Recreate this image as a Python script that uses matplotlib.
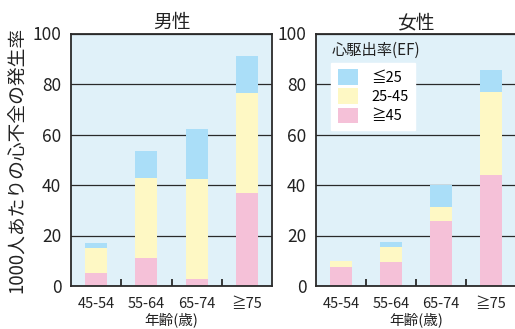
import matplotlib
matplotlib.use('Agg')
import matplotlib.pyplot as plt
import numpy as np

plt.rcParams['font.family'] = ['Noto Sans CJK JP', 'DejaVu Sans']

# 年齢層
ages = ['45-54', '55-64', '65-74', '≧75']

# 男性 (各区分の値)
male_ge45 = [5.3, 11.2, 2.9, 36.9]
male_25_45 = [9.9, 31.7, 39.4, 39.5]
male_le25 = [1.8, 10.5, 19.8, 14.6]

# 女性
female_ge45 = [7.7, 9.5, 25.9, 44.1]
female_25_45 = [2.2, 5.9, 5.4, 32.7]
female_le25 = [0.0, 2.0, 8.7, 8.7]

yticks = [0, 20, 40, 60, 80, 100]

c_bg = '#e0f1f9'
c_blue = '#aadef8'
c_yellow = '#fef8c4'
c_pink = '#f5c1d8'
c_line = '#2a2a2a'

fig = plt.figure(figsize=(5.15, 3.29), dpi=100)
ax1 = fig.add_axes([71 / 515, 43 / 329, 201 / 515, 252.5 / 329])
ax2 = fig.add_axes([316 / 515, 43 / 329, 200 / 515, 252.5 / 329])


def draw(ax, ge45, mid, le25, title):
    x = np.arange(len(ages))
    ge45 = np.array(ge45)
    mid = np.array(mid)
    le25 = np.array(le25)
    w = 0.44
    b1 = ax.bar(x, ge45, w, color=c_pink, label='≧45')
    b2 = ax.bar(x, mid, w, bottom=ge45, color=c_yellow, label='25-45')
    b3 = ax.bar(x, le25, w, bottom=ge45 + mid, color=c_blue, label='≦25')
    ax.set_facecolor(c_bg)
    ax.set_xlim(-0.5, 3.5)
    ax.set_ylim(0, 100)
    ax.set_axisbelow(True)
    ax.yaxis.grid(True, color=c_line, lw=0.9)
    ax.set_yticks(yticks)
    ax.set_yticklabels([str(v) for v in yticks], fontsize=12.5, color='#222')
    ax.tick_params(axis='y', length=0, pad=7)
    ax.set_xticks(x)
    ax.set_xticklabels(ages, fontsize=10.5, color='#222')
    # 区切りの目盛り
    ax.set_xticks([0.5, 1.5, 2.5], minor=True)
    ax.tick_params(axis='x', which='major', length=0, pad=8)
    ax.tick_params(axis='x', which='minor', length=5, width=1.3,
                   direction='in', color=c_line)
    for s in ax.spines.values():
        s.set_color(c_line)
        s.set_linewidth(1.3)
    ax.set_title(title, fontsize=13.5, pad=4, color='#222')
    ax.set_xlabel('年齢(歳)', fontsize=10.5, labelpad=1, color='#222')
    return b1, b2, b3


draw(ax1, male_ge45, male_25_45, male_le25, '男性')
b1, b2, b3 = draw(ax2, female_ge45, female_25_45, female_le25, '女性')

ax1.set_ylabel('1000人あたりの心不全の発生率', fontsize=13.5, labelpad=3, color='#222')

# 凡例
ax2.text(0.08, 0.935, '心駆出率(EF)', transform=ax2.transAxes,
         fontsize=11, ha='left', va='center', color='#222')
leg = ax2.legend([b3, b2, b1], ['≦25', '25-45', '≧45'],
                 loc='upper left', bbox_to_anchor=(0.075, 0.885),
                 frameon=True, fancybox=False, fontsize=10.5,
                 handlelength=1.4, handleheight=1.25, handletextpad=0.9,
                 labelspacing=0.25, borderpad=0.45, borderaxespad=0)
leg.get_frame().set_facecolor('white')
leg.get_frame().set_edgecolor('white')
leg.get_frame().set_alpha(1)

fig.savefig('out.png', dpi=100)
